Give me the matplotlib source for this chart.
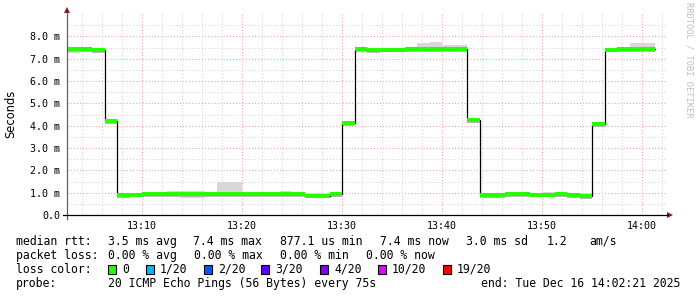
import numpy as np
import matplotlib.pyplot as plt
from matplotlib.lines import Line2D
from matplotlib.patches import Polygon, Rectangle

# 47 bins of 75 s, start 13:02:30, minutes after 13:00
bin_start = 2.5
bin_width = 1.25

median = [7.42, 7.43, 7.39, 4.19,
          0.90, 0.91, 0.93, 0.93, 0.93, 0.92, 0.93, 0.92, 0.93, 0.93, 0.93, 0.93, 0.94, 0.93,
          0.93, 0.86, 0.86, 0.93,
          4.10,
          7.42, 7.40, 7.41, 7.41, 7.42, 7.42, 7.43, 7.42, 7.44,
          4.25,
          0.88, 0.90, 0.92, 0.92, 0.91, 0.91, 0.92, 0.90, 0.85,
          4.08,
          7.41, 7.42, 7.42, 7.42]
smoke_hi = [7.49, 7.48, 7.46, 4.28,
            0.97, 0.98, 1.02, 1.03, 1.07, 1.07, 1.07, 1.02, 1.50, 1.50, 1.00, 1.02, 1.05, 1.07,
            0.98, 0.97, 0.98, 1.00,
            4.20,
            7.46, 7.45, 7.46, 7.47, 7.48, 7.70, 7.73, 7.61, 7.61,
            4.30,
            0.97, 0.98, 0.99, 0.99, 1.00, 1.02, 1.04, 1.00, 0.98,
            4.18,
            7.46, 7.50, 7.69, 7.69]
smoke_lo = [7.27, 7.36, 7.34, 4.12,
            0.82, 0.83, 0.86, 0.87, 0.84, 0.75, 0.74, 0.86, 0.86, 0.82, 0.83, 0.86, 0.85, 0.84,
            0.81, 0.80, 0.85, 0.83,
            3.98,
            7.35, 7.32, 7.35, 7.34, 7.33, 7.33, 7.32, 7.30, 7.38,
            4.18,
            0.81, 0.81, 0.87, 0.84, 0.82, 0.86, 0.85, 0.81, 0.79,
            3.99,
            7.33, 7.36, 7.36, 7.35]

x_ticks = [10, 20, 30, 40, 50, 60]
x_labels = ['13:10', '13:20', '13:30', '13:40', '13:50', '14:00']
y_ticks = [0, 1, 2, 3, 4, 5, 6, 7, 8]
y_labels = ['0.0', '1.0 m', '2.0 m', '3.0 m', '4.0 m', '5.0 m', '6.0 m', '7.0 m', '8.0 m']

loss_labels = ['0', '1/20', '2/20', '3/20', '4/20', '10/20', '19/20']
loss_colors = ['#26ff00', '#00b8ff', '#0059ff', '#5e00ff', '#7e00ff', '#dd00ff', '#ff0000']

W, H = 697, 297
mono = 'DejaVu Sans Mono'

fig = plt.figure(figsize=(W / 100, H / 100), dpi=100)
ax = fig.add_axes([67 / W, (H - 215) / H, 600 / W, (215 - 13) / H])
ax.set_xlim(2.5, 62.5)
ax.set_ylim(0, 9.05)
for s in ax.spines.values():
    s.set_visible(False)

# grid
for v in np.arange(0.5, 9.0, 0.5):
    major = abs(v - round(v)) < 1e-6
    ax.axhline(v, color='#eba3a3' if major else '#d4d4d4', lw=0.75, ls=(0, (1, 2)), zorder=0)
for v in np.arange(4, 63, 2):
    major = v % 10 == 0
    ax.axvline(v, color='#eba3a3' if major else '#d4d4d4', lw=0.75, ls=(0, (1, 2)), zorder=0)

med = np.array(median)
lo = np.array(smoke_lo)
hi = np.array(smoke_hi)
edges = bin_start + bin_width * np.arange(len(med) + 1)

# smoke
ax.fill_between(edges, np.append(lo, lo[-1]), np.append(hi, hi[-1]), step='post',
                color='#d8d8d8', lw=0, zorder=1)
ax.fill_between(edges, np.append(med - 0.12, med[-1] - 0.12), np.append(med + 0.05, med[-1] + 0.05),
                step='post', color='#b8b8b8', lw=0, zorder=2)

# median
ax.step(edges, np.append(med, med[-1]), where='post', color='black', lw=0.9, zorder=3)
ax.hlines(med, edges[:-1], edges[1:], colors='#26ff00', lw=2.9, zorder=4)

ax.set_xticks(x_ticks)
ax.set_xticklabels(x_labels, family=mono, fontsize=7.2)
ax.set_yticks(y_ticks)
ax.set_yticklabels(y_labels, family=mono, fontsize=7.2)
ax.tick_params(axis='x', length=0, pad=4.5)
ax.tick_params(axis='y', length=0, pad=5)

# axes lines and arrows
def fx(px):
    return px / W

def fy(py):
    return (H - py) / H

fig.add_artist(Line2D([fx(67), fx(67)], [fy(219), fy(12)], color='#606060', lw=0.9))
fig.add_artist(Line2D([fx(63), fx(668)], [fy(215), fy(215)], color='black', lw=0.9))
fig.add_artist(Polygon([[fx(64), fy(13)], [fx(70), fy(13)], [fx(67), fy(7)]], closed=True,
                       color='#8b1a1a', lw=0))
fig.add_artist(Polygon([[fx(667), fy(212)], [fx(667), fy(218)], [fx(673), fy(215)]], closed=True,
                       color='#8b1a1a', lw=0))

fig.text(fx(11), fy(113.5), 'Seconds', rotation=90, ha='center', va='center',
         family='DejaVu Sans', fontsize=8.3)
fig.text(fx(689), fy(60), 'RRDTOOL / TOBI OETIKER', rotation=270, ha='center', va='center',
         family=mono, fontsize=6.2, color='#bdbdbd')

# legend
fs = 8.3
row1 = [('median rtt:', 16), ('3.5 ms avg', 108), ('7.4 ms max', 193), ('877.1 us min', 280),
        ('7.4 ms now', 380), ('3.0 ms sd', 466), ('1.2', 547), ('am/s', 589)]
row2 = [('packet loss:', 16), ('0.00 % avg', 108), ('0.00 % max', 194), ('0.00 % min', 280),
        ('0.00 % now', 366)]
for txt, x in row1:
    fig.text(fx(x), fy(245), txt, family=mono, fontsize=fs, va='baseline')
for txt, x in row2:
    fig.text(fx(x), fy(259), txt, family=mono, fontsize=fs, va='baseline')

fig.text(fx(16), fy(273), 'loss color:', family=mono, fontsize=fs, va='baseline')
label_x = [122, 160, 218, 275, 334, 392, 457]
for lab, col, x in zip(loss_labels, loss_colors, label_x):
    fig.add_artist(Rectangle((fx(x - 14), fy(273.5)), 8 / W, 9 / H, facecolor=col,
                             edgecolor='black', lw=0.8))
    fig.text(fx(x), fy(273), lab, family=mono, fontsize=fs, va='baseline')

fig.text(fx(16), fy(287), 'probe:', family=mono, fontsize=fs, va='baseline')
fig.text(fx(108), fy(287), '20 ICMP Echo Pings (56 Bytes) every 75s', family=mono, fontsize=fs,
         va='baseline')
fig.text(fx(680), fy(287), 'end: Tue Dec 16 14:02:21 2025', family=mono, fontsize=fs,
         va='baseline', ha='right')

fig.savefig('out.png', dpi=100)
